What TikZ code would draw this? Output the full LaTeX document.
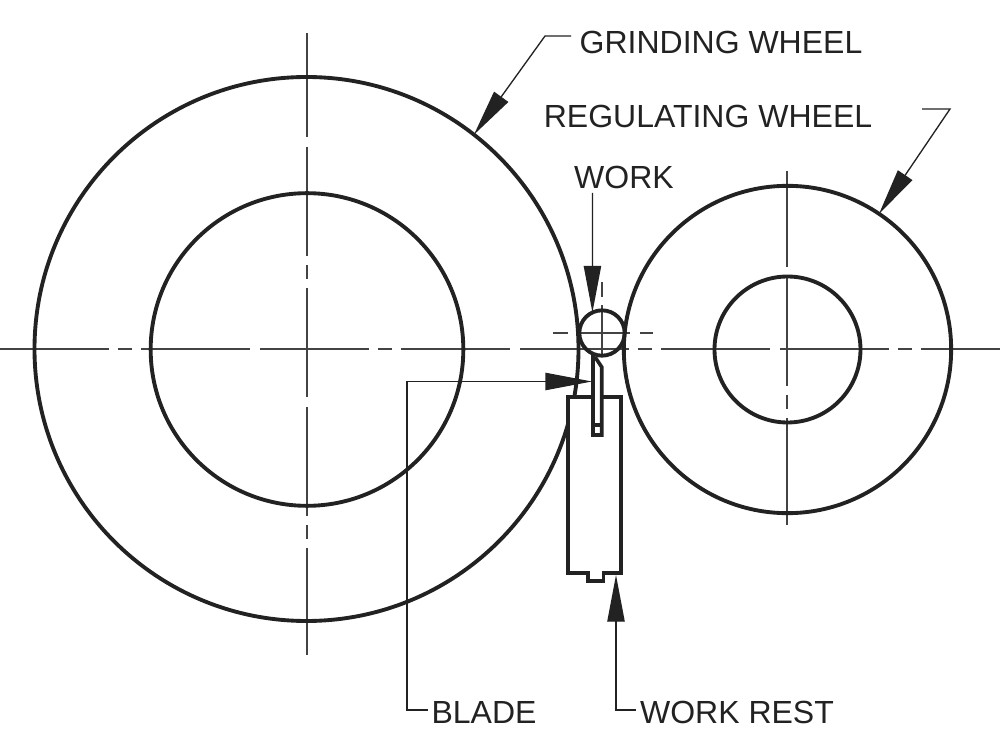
\documentclass[tikz,border=0pt]{standalone}
\usepackage{fontspec}
\setmainfont{Liberation Sans}
\usetikzlibrary{arrows.meta}
\definecolor{ink}{HTML}{222222}

\begin{document}
\begin{tikzpicture}[x=0.75pt,y=-0.75pt,ink,
    wheel/.style={circle,draw,line width=2.9pt,inner sep=0pt,outer sep=0pt},
    part/.style={draw,fill=white,line width=2.7pt,miter limit=4},
    center line/.style={line width=1pt,color=ink!85,dash pattern=on 81.75pt off 7.5pt on 81.75pt off 6.75pt on 10.5pt off 6.75pt},
    work line/.style={line width=1pt,color=ink!85,dash pattern=on 11pt off 6.5pt on 40.5pt off 7.5pt on 10pt off 100pt},
    leader/.style={line width=1pt,-{Triangle[length=35pt,width=13pt]}},
    label text/.style={font=\fontsize{24pt}{26pt}\selectfont,inner sep=0pt}]
\useasboundingbox (0,0) rectangle (1000,755);

% center lines
\draw[center line,dash phase=89.25pt] (0,349) -- (1000,349);
\draw[center line,dash phase=3.75pt] (307,33) -- (307,655);
\draw[center line,dash phase=9.75pt] (787,171) -- (787,525);
\draw[work line] (553,333) -- (653,333);
\draw[work line] (602,282) -- (602,355);

% wheels and work
\node[wheel,minimum size=408pt] (grinding) at (306.5,349) {};
\node[wheel,minimum size=234.5pt] (grinding bore) at (307,349.5) {};
\node[wheel,minimum size=245.5pt] (regulating) at (787.5,349.5) {};
\node[wheel,minimum size=109.5pt] (regulating bore) at (787.5,349.5) {};
\node[wheel,minimum size=34pt] (work) at (602,333) {};

% work rest and blade
\draw[part] (568,397) -- (621,397) -- (621,573) -- (603.5,573) -- (603.5,581)
    -- (588,581) -- (588,573) -- (568,573) -- cycle;
\draw[part] (593,354) -- (593,435) -- (601.7,435) -- (601.7,367) -- (595,357);
\draw[line width=2.7pt] (593,425) -- (601.7,425);
\coordinate (rest tip) at (616,575);
\coordinate (blade tip) at (592,381.5);

% labels
\node[label text] (grinding label) at (721,42) {GRINDING WHEEL};
\node[label text] (regulating label) at (708,116) {REGULATING WHEEL};
\node[label text] (work label) at (624,177) {WORK};
\node[label text] (blade label) at (484,712) {BLADE};
\node[label text] (rest label) at (737,712) {WORK REST};

% leaders
\draw[leader] (571,36) -- (545,36) -- (grinding.52);
\draw[leader] (922,109) -- (950,109) -- (regulating.56);
\draw[leader] (592.5,193) -- (work.115);
\draw[leader] (428,710) -- (407,710) -- (407,381.5) -- (blade tip);
\draw[leader] (636,710) -- (616,710) -- (rest tip);
\end{tikzpicture}
\end{document}
